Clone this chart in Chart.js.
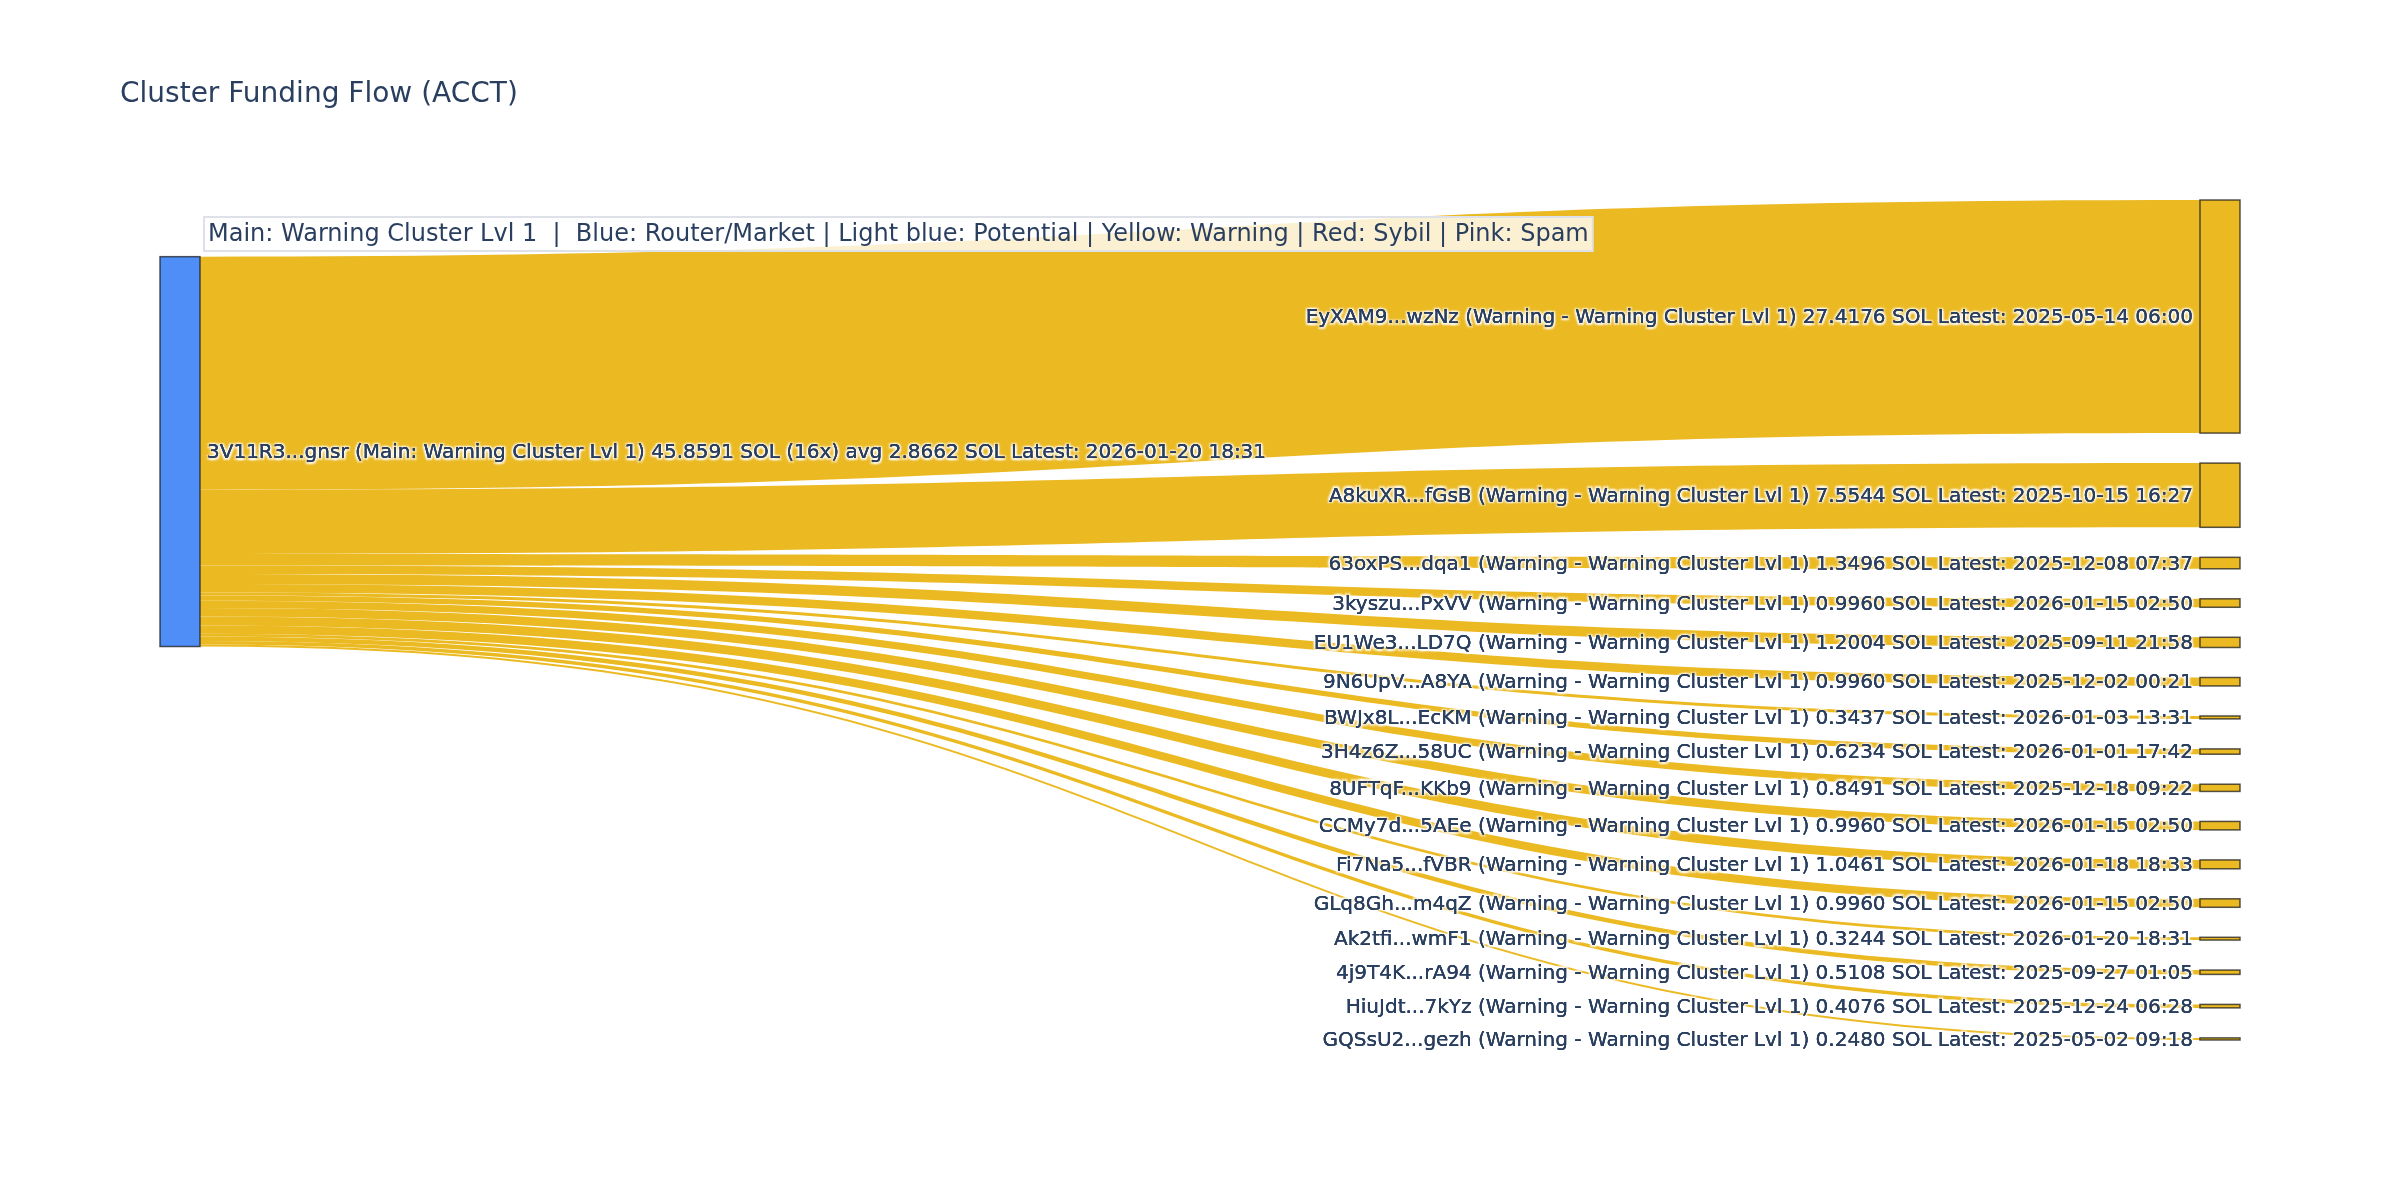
<!DOCTYPE html>
<html lang="en">
<head>
    <meta charset="UTF-8">
    <title>Cluster Funding Flow (ACCT)</title>
    <style>
        body {
            margin: 0;
            background-color: #fff;
        }
        canvas {
            display: block;
        }
    </style>
</head>
<body>
    <canvas id="flowChart" width="2400" height="1200"></canvas>

    <script src="https://cdn.jsdelivr.net/npm/chart.js"></script>
    <script>
        // --- data ---
        const chartTitle = "Cluster Funding Flow (ACCT)";
        const legendNote = "Main: Warning Cluster Lvl 1  |  Blue: Router/Market | Light blue: Potential | Yellow: Warning | Red: Sybil | Pink: Spam";

        const sourceLabel = "3V11R3...gnsr (Main: Warning Cluster Lvl 1) 45.8591 SOL (16x) avg 2.8662 SOL Latest: 2026-01-20 18:31";

        const targetIds = [
            "EyXAM9...wzNz", "A8kuXR...fGsB", "63oxPS...dqa1", "3kyszu...PxVV",
            "EU1We3...LD7Q", "9N6UpV...A8YA", "BWJx8L...EcKM", "3H4z6Z...58UC",
            "8UFTqF...KKb9", "CCMy7d...5AEe", "Fi7Na5...fVBR", "GLq8Gh...m4qZ",
            "Ak2tfi...wmF1", "4j9T4K...rA94", "HiuJdt...7kYz", "GQSsU2...gezh"
        ];
        const targetValues = [
            27.4176, 7.5544, 1.3496, 0.9960,
            1.2004, 0.9960, 0.3437, 0.6234,
            0.8491, 0.9960, 1.0461, 0.9960,
            0.3244, 0.5108, 0.4076, 0.2480
        ];
        const targetDates = [
            "2025-05-14 06:00", "2025-10-15 16:27", "2025-12-08 07:37", "2026-01-15 02:50",
            "2025-09-11 21:58", "2025-12-02 00:21", "2026-01-03 13:31", "2026-01-01 17:42",
            "2025-12-18 09:22", "2026-01-15 02:50", "2026-01-18 18:33", "2026-01-15 02:50",
            "2026-01-20 18:31", "2025-09-27 01:05", "2025-12-24 06:28", "2025-05-02 09:18"
        ];

        // --- layout / style ---
        const NODE_PAD = 3.53;      // gap between nodes, in SOL units of the y scale
        const NODE_WIDTH = 40;      // px
        const FONT = '"DejaVu Sans", sans-serif';
        const TEXT_COLOR = '#2a3f5f';
        const WARN_COLOR = 'rgb(235, 185, 34)';
        const MAIN_COLOR = 'rgb(79, 142, 247)';

        const total = targetValues.reduce((a, b) => a + b, 0);
        const yMax = total + (targetValues.length - 1) * NODE_PAD;

        // right column stacked top-down, left node centred on its targets
        const targets = [];
        let acc = 0;
        targetValues.forEach((v, i) => {
            targets.push({
                label: targetIds[i] + ' (Warning - Warning Cluster Lvl 1) ' + v.toFixed(4) + ' SOL Latest: ' + targetDates[i],
                value: v,
                y0: acc,
                y1: acc + v
            });
            acc += v + NODE_PAD;
        });
        const srcCenter = targets.reduce((s, t) => s + t.value * (t.y0 + t.y1) / 2, 0) / total;
        const source = { label: sourceLabel, y0: srcCenter - total / 2, y1: srcCenter + total / 2 };

        function haloText(ctx, text, x, y) {
            ctx.save();
            ctx.shadowColor = 'rgba(255,255,255,1)';
            ctx.shadowBlur = 2;
            [[1.5, 1.5], [-1.5, -1.5], [1.5, -1.5], [-1.5, 1.5]].forEach(([dx, dy]) => {
                ctx.shadowOffsetX = dx;
                ctx.shadowOffsetY = dy;
                ctx.fillText(text, x, y);
            });
            ctx.restore();
            ctx.fillText(text, x, y);
        }

        const sankeyPlugin = {
            id: 'sankey',
            afterDatasetsDraw(chart) {
                const ctx = chart.ctx;
                const xs = chart.scales.x;
                const ys = chart.scales.y;

                const srcX0 = xs.getPixelForValue(0);
                const srcX1 = srcX0 + NODE_WIDTH;
                const tgtX1 = xs.getPixelForValue(1);
                const tgtX0 = tgtX1 - NODE_WIDTH;
                const xm = (srcX1 + tgtX0) / 2;

                // links
                ctx.save();
                ctx.fillStyle = WARN_COLOR;
                let off = source.y0;
                targets.forEach(t => {
                    const s0 = ys.getPixelForValue(off);
                    const s1 = ys.getPixelForValue(off + t.value);
                    const t0 = ys.getPixelForValue(t.y0);
                    const t1 = ys.getPixelForValue(t.y1);
                    ctx.beginPath();
                    ctx.moveTo(srcX1, s0);
                    ctx.bezierCurveTo(xm, s0, xm, t0, tgtX0, t0);
                    ctx.lineTo(tgtX0, t1);
                    ctx.bezierCurveTo(xm, t1, xm, s1, srcX1, s1);
                    ctx.closePath();
                    ctx.fill();
                    off += t.value;
                });

                // nodes
                ctx.lineWidth = 1.5;
                ctx.strokeStyle = 'rgba(30, 30, 30, 0.75)';
                const sy0 = ys.getPixelForValue(source.y0);
                const sy1 = ys.getPixelForValue(source.y1);
                ctx.fillStyle = MAIN_COLOR;
                ctx.fillRect(srcX0, sy0, NODE_WIDTH, sy1 - sy0);
                ctx.strokeRect(srcX0, sy0, NODE_WIDTH, sy1 - sy0);
                targets.forEach(t => {
                    const a = ys.getPixelForValue(t.y0);
                    const b = ys.getPixelForValue(t.y1);
                    ctx.fillStyle = WARN_COLOR;
                    ctx.fillRect(tgtX0, a, NODE_WIDTH, b - a);
                    ctx.strokeRect(tgtX0, a, NODE_WIDTH, b - a);
                });

                // node labels
                ctx.font = '20px ' + FONT;
                ctx.fillStyle = TEXT_COLOR;
                ctx.textBaseline = 'middle';
                ctx.textAlign = 'left';
                haloText(ctx, source.label, srcX1 + 7, (sy0 + sy1) / 2 + 1.5);
                ctx.textAlign = 'right';
                targets.forEach(t => {
                    const mid = (ys.getPixelForValue(t.y0) + ys.getPixelForValue(t.y1)) / 2;
                    haloText(ctx, t.label, tgtX0 - 7, mid + 1.5);
                });

                // colour key box
                ctx.font = '24px ' + FONT;
                ctx.textAlign = 'left';
                const w = ctx.measureText(legendNote).width;
                ctx.fillStyle = 'rgba(255, 255, 255, 0.8)';
                ctx.fillRect(204, 217, w + 8, 34);
                ctx.strokeStyle = '#dfe1e8';
                ctx.lineWidth = 2;
                ctx.strokeRect(204, 217, w + 8, 34);
                ctx.fillStyle = TEXT_COLOR;
                ctx.fillText(legendNote, 208, 235);

                // title
                ctx.font = '28px ' + FONT;
                ctx.fillText(chartTitle, 120, 95);
                ctx.restore();
            }
        };

        new Chart(document.getElementById('flowChart'), {
            type: 'scatter',
            data: { datasets: [] },
            options: {
                responsive: false,
                animation: false,
                devicePixelRatio: 1,
                layout: { padding: { left: 160, right: 160, top: 200, bottom: 160 } },
                plugins: {
                    legend: { display: false },
                    title: { display: false },
                    tooltip: { enabled: false }
                },
                scales: {
                    x: { type: 'linear', display: false, min: 0, max: 1 },
                    y: { type: 'linear', display: false, min: 0, max: yMax, reverse: true }
                }
            },
            plugins: [sankeyPlugin]
        });
    </script>
</body>
</html>
